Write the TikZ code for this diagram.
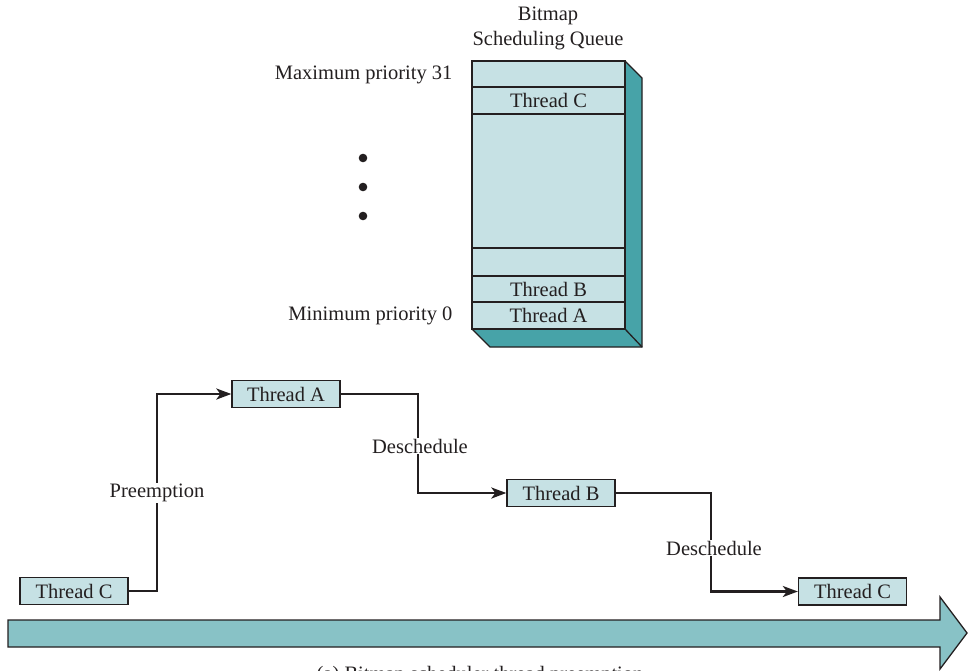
\documentclass[tikz,border=0pt]{standalone}
\usepackage{fontspec}
\setmainfont{Liberation Serif}
\usetikzlibrary{arrows.meta,calc}
\definecolor{boxfill}{HTML}{C6E1E4}
\definecolor{darkteal}{HTML}{47A3A8}
\definecolor{shaft}{HTML}{88C2C6}
\definecolor{ink}{HTML}{231F20}
\begin{document}
\begin{tikzpicture}[x=1pt,y=-1pt,
  every node/.style={font=\fontsize{20.5}{24}\selectfont, text=ink},
  tbox/.style={draw=ink, line width=1.3pt, fill=boxfill, minimum width=108pt, minimum height=27pt, inner sep=0pt},
  conn/.style={draw=ink, line width=2.4pt, -{Stealth[length=15pt,width=11pt,inset=4pt]}},
  lbl/.style={fill=white, inner sep=1pt},
  qline/.style={draw=ink, line width=2.3pt}]
\useasboundingbox (0,0) rectangle (968,670);

% queue 3D
\fill[darkteal] (625,61) -- (642,78) -- (642,347) -- (625,329) -- cycle;
\fill[darkteal] (472,329) -- (625,329) -- (642,347) -- (490,347) -- cycle;
\draw[ink, line width=1.3pt] (625,61) -- (642,78) -- (642,347) -- (490,347) -- (472,329);
\draw[ink, line width=1.3pt] (625,329) -- (642,347);
\draw[ink, line width=1.6pt, fill=boxfill] (472,61) rectangle (625,329);
\foreach \yy in {87,114,248,276,302} \draw[qline] (472,\yy) -- (625,\yy);
\node (qc) at (548.5,100.5) {Thread C};
\node (qb) at (548.5,289) {Thread B};
\node (qa) at (548.5,315.5) {Thread A};

\node (t1) at (548,16) {Bitmap};
\node (t2) at (548,41) {Scheduling Queue};
\node[anchor=east] (maxp) at (456,75) {Maximum priority 31};
\node[anchor=east] (minp) at (456,316) {Minimum priority 0};
\foreach \yy/\nm in {158/d1,187/d2,216/d3} \fill[ink] (363,\yy) circle (4.3pt);

% timeline
\node[tbox] (tc1) at (74,591) {Thread C};
\node[tbox] (ta) at (286,394) {Thread A};
\node[tbox] (tb) at (561,493) {Thread B};
\node[tbox] (tc2) at (852.5,591.5) {Thread C};

\coordinate (k1) at (157,0);
\coordinate (k2) at (418,0);
\coordinate (k3) at (711,0);
\draw[conn] (tc1.east) -- (tc1.east -| k1) |- (ta.west);
\draw[conn] (ta.east) -- (ta.east -| k2) |- (tb.west);
\draw[conn] (tb.east) -- (tb.east -| k3) |- (tc2.west);

\node[lbl] (pre) at (157,493) {Preemption};
\node[lbl] (des1) at (420,446) {Deschedule};
\node[lbl] (des2) at (714,548) {Deschedule};

% big arrow
\draw[ink, line width=1.3pt, fill=shaft] (8,620) -- (940,620) -- (940,597) -- (967,633) -- (940,669) -- (940,647) -- (8,647) -- cycle;

\node[anchor=base] (cap) at (480,680) {(a) Bitmap scheduler thread preemption};
\end{tikzpicture}
\end{document}
